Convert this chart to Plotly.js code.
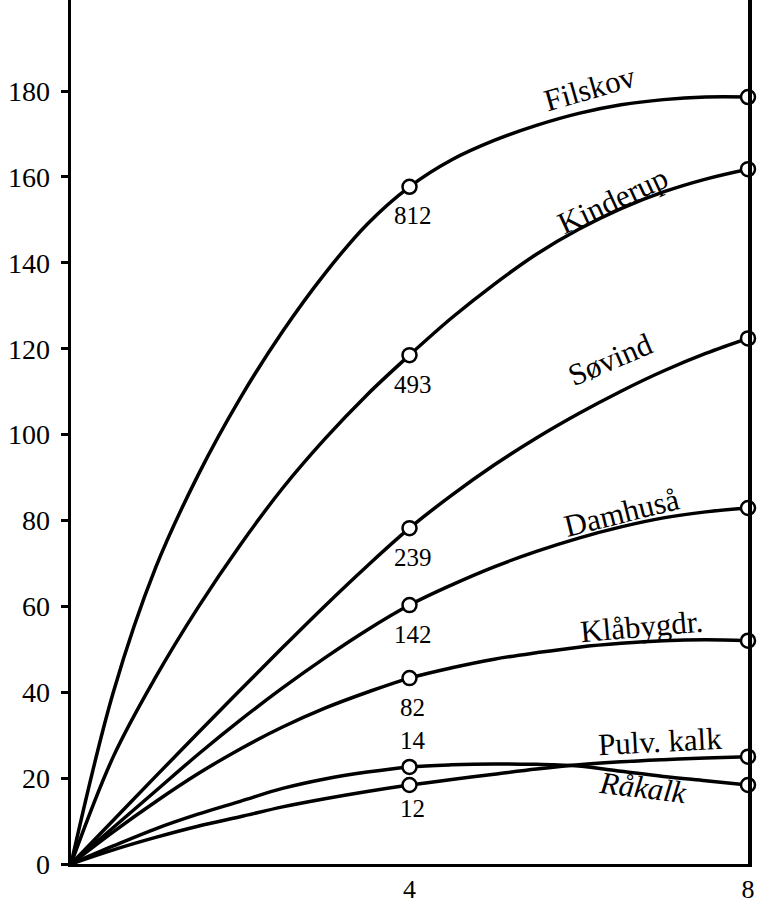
<!DOCTYPE html>
<html>
<head>
<meta charset="utf-8">
<script src="https://cdn.plot.ly/plotly-3.0.1.min.js"></script>
<style>html,body{margin:0;padding:0;background:#fff}#chart{width:757px;height:908px}</style>
</head>
<body>
<div id="chart"></div>
<script>
// Values
const xGrid = [0, 0.5, 1, 1.5, 2, 2.5, 3, 3.5, 4, 4.5, 5, 5.5, 6, 6.5, 7, 7.5, 8];
const seriesNames = ["Filskov", "Kinderup", "Søvind", "Damhuså", "Klåbygdr.", "Råkalk", "Pulv. kalk"];
const filskov   = [0, 40, 69, 90.5, 108.5, 124, 137.5, 149, 157.7, 164, 168.5, 172, 174.8, 176.8, 178, 178.6, 178.6];
const kinderup  = [0, 25, 43.5, 59.7, 74.3, 87.5, 99, 109.3, 118.5, 127.2, 135, 142, 147.8, 152.6, 156.5, 159.5, 161.8];
const sovind    = [0, 10.2, 20.4, 30.5, 40.5, 50.4, 60.1, 69.4, 78.2, 85.9, 92.9, 99.2, 104.9, 110.1, 114.8, 118.9, 122.4];
const damhusa   = [0, 8.5, 17, 25.5, 33.5, 41, 48, 54.5, 60.3, 65, 69.2, 72.8, 75.9, 78.5, 80.6, 82, 82.9];
const klabygdr  = [0, 7.5, 14.5, 21, 26.8, 31.9, 36.3, 40, 43.3, 45.7, 47.7, 49.2, 50.5, 51.4, 52, 52.2, 52];
const rakalk    = [0, 4.2, 8.2, 11.6, 14.6, 17.6, 19.8, 21.4, 22.6, 23.1, 23.3, 23.2, 22.8, 21.6, 20.4, 19.4, 18.4];
const pulvkalk  = [0, 3.3, 6.2, 8.8, 11, 13.3, 15.2, 16.9, 18.4, 19.7, 20.9, 22.1, 23.1, 23.8, 24.3, 24.7, 25];
const pointLabels = ["812", "493", "239", "142", "82", "14", "12"];
const yTickVals = [0, 20, 40, 60, 80, 100, 120, 140, 160, 180];
const xTickVals = [4, 8];
const markerX = [4, 8];

const allSeries = [filskov, kinderup, sovind, damhusa, klabygdr, rakalk, pulvkalk];
const FONT = "Liberation Serif, Times New Roman, serif";

const traces = [];
allSeries.forEach((ys, i) => {
  traces.push({
    x: xGrid, y: ys, type: "scatter", mode: "lines", name: seriesNames[i],
    line: {color: "#000", width: 3.5, shape: "spline", smoothing: 1},
    cliponaxis: false, hoverinfo: "skip", showlegend: false
  });
});
allSeries.forEach((ys, i) => {
  traces.push({
    x: markerX, y: markerX.map(v => ys[xGrid.indexOf(v)]), type: "scatter", mode: "markers",
    marker: {symbol: "circle", size: 14, color: "#fff", line: {color: "#000", width: 2.5}},
    cliponaxis: false, hoverinfo: "skip", showlegend: false
  });
});

const annotations = [];
const i4 = xGrid.indexOf(4);
allSeries.forEach((ys, i) => {
  const above = (i === 5);
  annotations.push({
    x: 4, y: ys[i4], text: pointLabels[i], showarrow: false,
    xshift: 3, yshift: above ? 26 : (i === 6 ? -24 : -29),
    font: {family: FONT, size: 25, color: "#000"}
  });
});
const nameLayout = [
  {x: 6.13, y: 180.7, a: -16, it: false},
  {x: 6.40, y: 154.6, a: -25, it: false},
  {x: 6.37, y: 117.5, a: -23, it: false},
  {x: 6.51, y: 81.9, a: -14, it: false},
  {x: 6.74, y: 55.4, a: -5, it: false},
  {x: 6.76, y: 17.9, a: 7, it: true},
  {x: 6.96, y: 28.6, a: -3, it: false}
];
seriesNames.forEach((n, i) => {
  const p = nameLayout[i];
  annotations.push({
    x: p.x, y: p.y, text: p.it ? "<i>" + n + "</i>" : n, showarrow: false, textangle: p.a,
    font: {family: FONT, size: 31, color: "#000"}
  });
});

const layout = {
  width: 757, height: 908,
  margin: {l: 71, r: 9, t: 0, b: 44, pad: 0},
  paper_bgcolor: "#fff", plot_bgcolor: "#fff",
  showlegend: false,
  xaxis: {
    range: [0, 8], showgrid: false, zeroline: false,
    showline: true, linecolor: "#000", linewidth: 3,
    tickvals: xTickVals, ticktext: xTickVals.map(String), ticks: "",
    ticklabelstandoff: 0,
    tickfont: {family: FONT, size: 26, color: "#000"}
  },
  yaxis: {
    range: [0, 201.2], showgrid: false, zeroline: false,
    showline: true, mirror: true, linecolor: "#000", linewidth: 3.5,
    tickvals: yTickVals, ticktext: yTickVals.map(String),
    ticks: "outside", ticklen: 7, tickwidth: 3, tickcolor: "#000",
    ticklabelstandoff: 5,
    tickfont: {family: FONT, size: 28, color: "#000"}
  },
  annotations: annotations
};

Plotly.newPlot("chart", traces, layout, {staticPlot: true, displayModeBar: false});
</script>
</body>
</html>
